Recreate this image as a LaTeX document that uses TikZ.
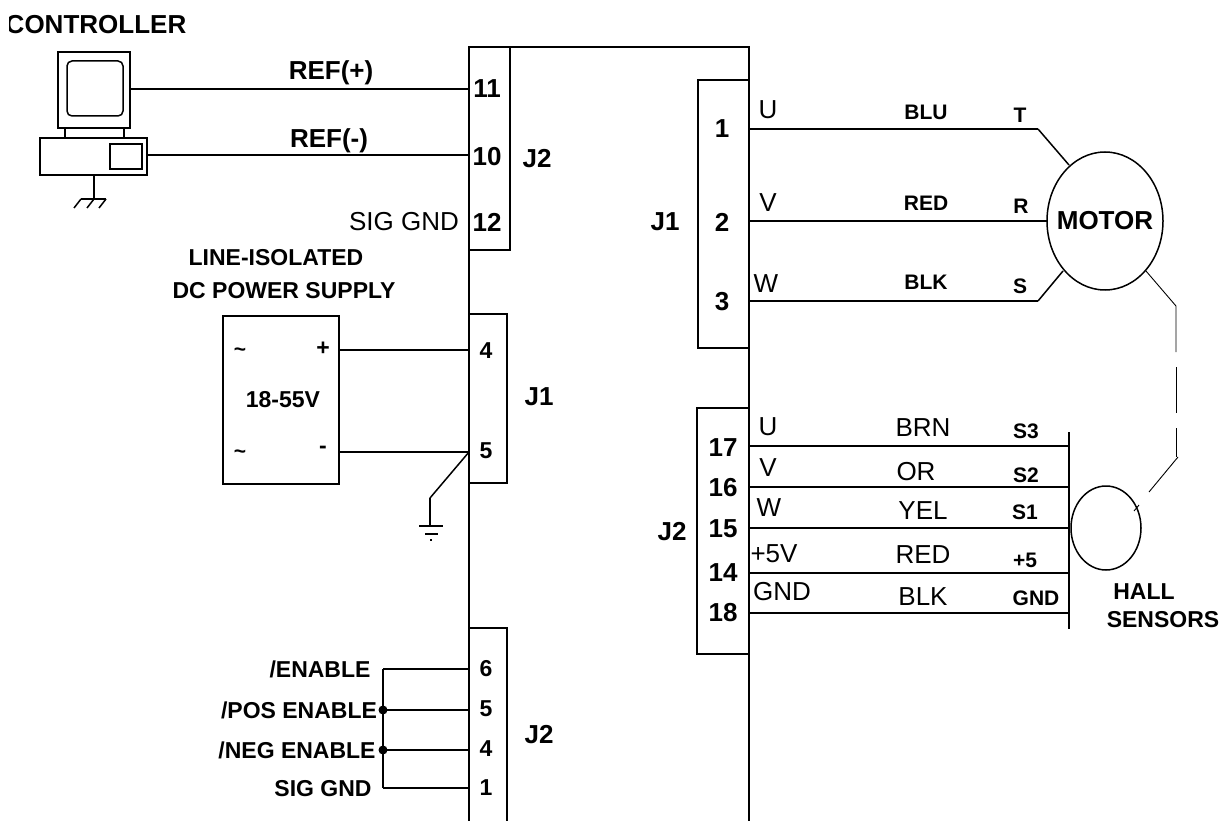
\documentclass[tikz,border=0pt]{standalone}
\usepackage{fontspec}
\setmainfont{Liberation Sans}
\tikzset{
  wire/.style={line width=1.5pt},
  thin wire/.style={line width=0.9pt},
  big/.style={font=\fontsize{26}{30}\selectfont\bfseries,inner sep=0pt},
  mid/.style={font=\fontsize{23}{27}\selectfont\bfseries,inner sep=0pt},
  small/.style={font=\fontsize{21}{25}\selectfont\bfseries,inner sep=0pt},
  plain/.style={font=\fontsize{26}{30}\selectfont,inner sep=0pt},
  dot/.style={circle,fill=black,inner sep=0pt,minimum size=9pt}
}
\begin{document}
\begin{tikzpicture}[x=1pt,y=-1pt]
      \useasboundingbox (0,0) rectangle (1219,821);
      % controller
      \begin{scope}
        \clip (9,0) rectangle (300,50);
        \draw (96,25) node[big] (title){CONTROLLER};
      \end{scope}
      \draw
        (58,52) node[coordinate] (mona){}
        (130,128) node[coordinate] (monb){}
        (67,61) node[coordinate] (scra){}
        (123,116) node[coordinate] (scrb){}
        (40,138) node[coordinate] (basea){}
        (147,175) node[coordinate] (baseb){}
        (110,144) node[coordinate] (baya){}
        (142,169) node[coordinate] (bayb){};
      \draw[wire] (mona) rectangle (monb);
      \draw[wire,rounded corners=5pt] (scra) rectangle (scrb);
      \draw[wire] (basea) rectangle (baseb);
      \draw[wire] (baya) rectangle (bayb);
      \draw[wire] (65,128) -- (65,138);
      \draw[wire] (124,128) -- (124,138);
      \draw[wire] (94,175) -- (94,199);
      \draw[wire] (81,199) -- (106,199);
      \draw[wire] (81,199) -- (74,208);
      \draw[wire] (94,199) -- (87,208);
      \draw[wire] (106,199) -- (99,208);
      % drive outline and connector shells
      \draw[wire] (469,821) -- (469,47) -- (749,47) -- (749,821);
      \draw[wire] (510,47) -- (510,250) -- (469,250);
      \draw[wire] (469,314) -- (507,314) -- (507,483) -- (469,483);
      \draw[wire] (469,628) -- (507,628) -- (507,821);
      \draw[wire] (749,80) -- (698,80) -- (698,348) -- (749,348);
      \draw[wire] (749,408) -- (697,408) -- (697,654) -- (749,654);
      \draw[wire] (223,316) rectangle (339,484);
      % pin positions
      \draw
        (130,89) node[coordinate] (mon){}
        (469,89) node[coordinate] (p11){}
        (147,155) node[coordinate] (pc){}
        (469,155) node[coordinate] (p10){}
        (339,350) node[coordinate] (plus){}
        (469,350) node[coordinate] (p4){}
        (339,452) node[coordinate] (minus){}
        (469,452) node[coordinate] (p5){}
        (430,498) node[coordinate] (gnda){}
        (430,526) node[coordinate] (gndb){}
        (383,669) node[coordinate] (ena){}
        (469,669) node[coordinate] (q6){}
        (383,710) node[dot] (pos){}
        (469,710) node[coordinate] (q5){}
        (383,750) node[dot] (neg){}
        (469,750) node[coordinate] (q4){}
        (383,788) node[coordinate] (sig){}
        (469,788) node[coordinate] (q1){}
        (749,129) node[coordinate] (u){}
        (1038,129) node[coordinate] (ua){}
        (1069,165) node[coordinate] (ub){}
        (749,221) node[coordinate] (v){}
        (1047,221) node[coordinate] (vb){}
        (749,301) node[coordinate] (w){}
        (1038,301) node[coordinate] (wa){}
        (1063,271) node[coordinate] (wb){};
      \draw[wire] (1105,221) ellipse (58 and 69);
      \draw[wire] (1106,528) ellipse (35 and 42);
      \begin{scope}[wire]
        \draw (mon) to (p11);
        \draw (pc) to (p10);
        \draw (plus) to (p4);
        \draw (minus) to (p5);
        \draw (p5) to (gnda);
        \draw (gnda) to (gndb);
        \draw (419,526) -- (443,526);
        \draw (425,534) -- (438,534);
        \draw (430,540) -- (432,540);
        \draw (ena) to (q6);
        \draw (pos.center) to (q5);
        \draw (neg.center) to (q4);
        \draw (sig) to (q1);
        \draw (ena) to (pos.center);
        \draw (pos.center) to (neg.center);
        \draw (neg.center) to (sig);
        \draw (u) to (ua);
        \draw (ua) to (ub);
        \draw (v) to (vb);
        \draw (w) to (wa);
        \draw (wa) to (wb);
      \end{scope}
      % hall wires
      \draw[wire] (1069,432) -- (1069,629);
      \foreach \y in {446,487,528,573,613}
        \draw[wire] (749,\y) -- (1069,\y);
      % motor to hall
      \draw[thin wire] (1146,271) -- (1176,306) -- (1176,352);
      \draw[thin wire] (1176,367) -- (1176,413);
      \draw[thin wire] (1176,428) -- (1176,457);
      \draw[thin wire] (1178,457) -- (1149,492);
      \draw[thin wire] (1139,505) -- (1134,511);
      % left labels
      \draw
        (331,73) node[big] (refp){REF(+)}
        (329,141) node[big] (refm){REF(-)}
        (487,89) node[big] (n11){11}
        (487,157) node[big] (n10){10}
        (487,222) node[big] (n12){12}
        (537,159) node[big] (jtwoa){J2}
        (404,222) node[plain] (siggnd){SIG GND}
        (276,258) node[mid] (line){LINE-ISOLATED}
        (284,291) node[mid] (dc){DC POWER SUPPLY}
        (240,352) node[small] (tila){\textasciitilde}
        (323,349) node[mid] (pl){+}
        (283,400) node[mid] (volt){18-55V}
        (240,454) node[small] (tilb){\textasciitilde}
        (323,450) node[mid] (mi){-}
        (486,351) node[mid] (n4){4}
        (486,451) node[mid] (n5){5}
        (539,397) node[big] (jone){J1}
        (320,669) node[mid] (enable){/ENABLE}
        (299,710) node[mid] (posen){/POS ENABLE}
        (297,750) node[mid] (negen){/NEG ENABLE}
        (323,789) node[mid] (sg){SIG GND}
        (486,669) node[mid] (m6){6}
        (486,709) node[mid] (m5){5}
        (486,749) node[mid] (m4){4}
        (486,788) node[mid] (m1){1}
        (539,735) node[big] (jtwob){J2};
      % right labels
      \draw
        (722,129) node[big] (r1){1}
        (722,222) node[big] (r2){2}
        (722,302) node[big] (r3){3}
        (665,222) node[big] (jonec){J1}
        (768,110) node[plain] (lu){U}
        (768,203) node[plain] (lv){V}
        (766,284) node[plain] (lw){W}
        (926,112) node[small] (blu){BLU}
        (926,203) node[small] (red){RED}
        (926,282) node[small] (blk){BLK}
        (1020,115) node[small] (lt){T}
        (1021,206) node[small] (lr){R}
        (1020,286) node[small] (ls){S}
        (1105,221) node[big] (motor){MOTOR}
        (723,448) node[big] (r17){17}
        (723,488) node[big] (r16){16}
        (723,529) node[big] (r15){15}
        (723,573) node[big] (r14){14}
        (723,613) node[big] (r18){18}
        (672,532) node[big] (jtwoc){J2}
        (768,427) node[plain] (hu){U}
        (768,468) node[plain] (hv){V}
        (769,508) node[plain] (hw){W}
        (774,554) node[plain] (hp){+5V}
        (782,592) node[plain] (hg){GND}
        (923,428) node[plain] (brn){BRN}
        (916,472) node[plain] (or){OR}
        (923,511) node[plain] (yel){YEL}
        (923,555) node[plain] (hred){RED}
        (923,597) node[plain] (hblk){BLK}
        (1026,431) node[small] (s3){S3}
        (1026,475) node[small] (s2){S2}
        (1025,512) node[small] (s1){S1}
        (1025,560) node[small] (sp){+5}
        (1036,598) node[small] (sg2){GND}
        (1144,592) node[mid] (hall){HALL}
        (1163,620) node[mid] (sens){SENSORS};
    \end{tikzpicture}
\end{document}
